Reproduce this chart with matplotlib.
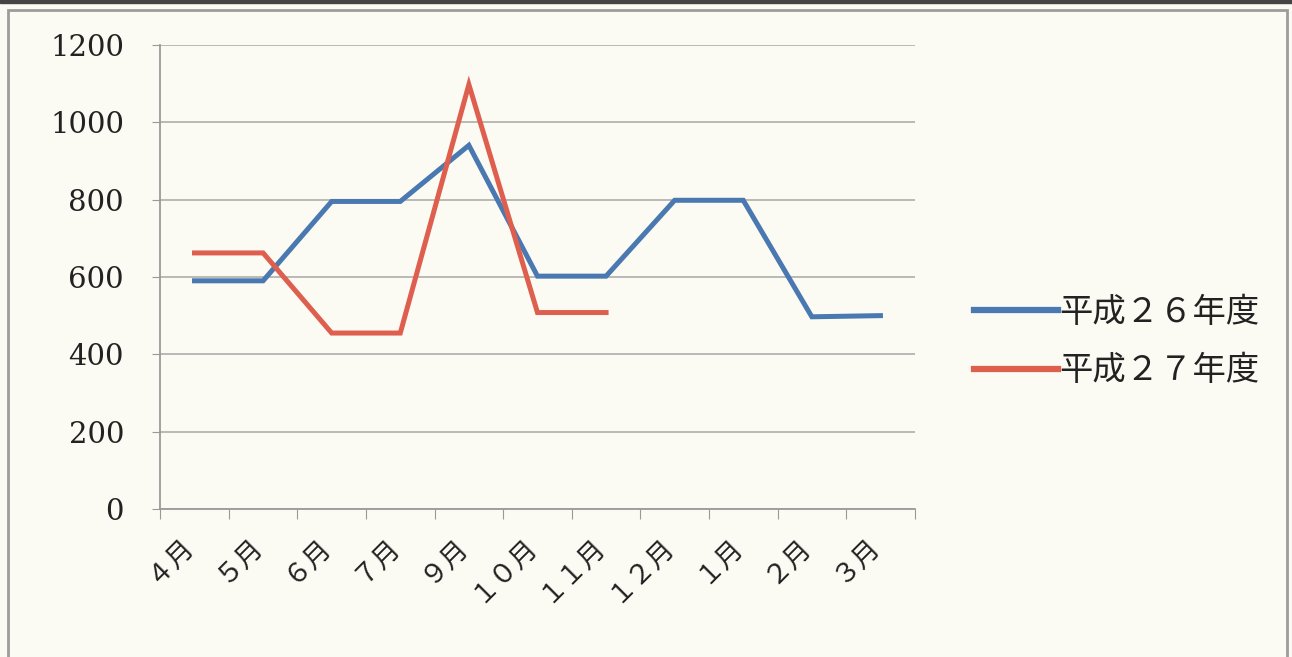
import numpy as np
import matplotlib.pyplot as plt
from matplotlib.patches import Rectangle

plt.rcParams['font.family'] = ['DejaVu Serif', 'Noto Sans CJK JP']

# データ（８月は無し）
months = ['４月', '５月', '６月', '７月', '９月', '１０月', '１１月', '１２月', '１月', '２月', '３月']
h26 = [590, 590, 795, 795, 940, 602, 602, 798, 798, 497, 500]
h27 = [662, 662, 455, 455, 1097, 508, 508]
yticks = [0, 200, 400, 600, 800, 1000, 1200]

bg = '#fbfbf4'
fig = plt.figure(figsize=(12.92, 6.57), dpi=100, facecolor=bg)
ax = fig.add_axes([0.124, 0.225, 0.584, 0.707], facecolor=bg)

x26 = np.arange(len(h26))
x27 = np.arange(len(h27))
l1, = ax.plot(x26, h26, color='#4a78b0', lw=3.6, solid_joinstyle='miter', label='平成２６年度')
l2, = ax.plot(x27, h27, color='#df5f4f', lw=3.6, solid_joinstyle='miter', label='平成２７年度')

ax.set_xlim(-0.5, len(months) - 0.5)
ax.set_ylim(0, 1200)
ax.set_yticks(yticks)
ax.set_yticklabels([str(v) for v in yticks], fontsize=21, color='#222222')
ax.yaxis.grid(True, color='#b4b4b0', lw=1.3)
ax.set_axisbelow(True)

# x 目盛りは区切り位置に、ラベルは少し左寄せ
ax.set_xticks(np.arange(len(months) + 1) - 0.5)
ax.set_xticklabels([])
ax.set_xticks(np.arange(len(months)) - 0.22, minor=True)
ax.set_xticklabels(months, minor=True, rotation=45, ha='right', va='top',
                   rotation_mode='anchor', fontsize=19.5, color='#222222',
                   family=['Noto Sans CJK JP'])
ax.tick_params(axis='x', which='minor', length=0, pad=16)
ax.tick_params(axis='x', which='major', length=7, color='#999999', direction='out')
ax.tick_params(axis='y', length=6, color='#999999', pad=20)

for s in ['top', 'right']:
    ax.spines[s].set_visible(False)
for s in ['left', 'bottom']:
    ax.spines[s].set_color('#9a9a9a')
    ax.spines[s].set_linewidth(1.3)

leg = fig.legend(handles=[l1, l2], loc='center left', bbox_to_anchor=(0.731, 0.48),
                 frameon=False, handlelength=2.5, handletextpad=0.05, labelspacing=0.7,
                 prop={'family': ['Noto Sans CJK JP'], 'size': 24})
for t in leg.get_texts():
    t.set_color('#222222')
for h in leg.legend_handles:
    h.set_linewidth(4.5)

# 外枠
fig.patches.append(Rectangle((0.006, -0.01), 0.99, 0.995, transform=fig.transFigure,
                             fill=False, edgecolor='#9c9c9c', lw=2))
fig.patches.append(Rectangle((0, 0.996), 1, 0.004, transform=fig.transFigure,
                             color='#444444'))

fig.savefig('out.png', dpi=100, facecolor=bg)
